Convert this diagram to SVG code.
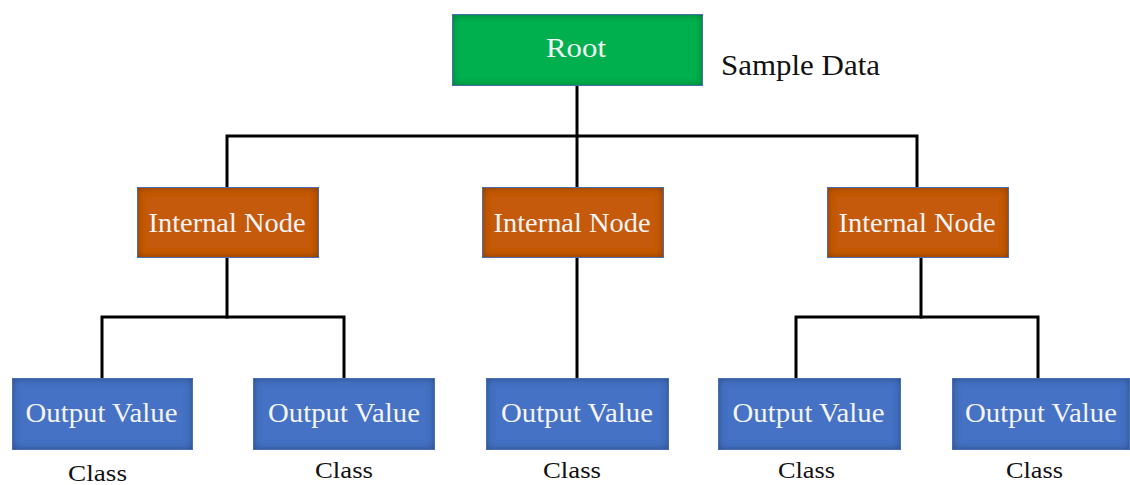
<svg xmlns="http://www.w3.org/2000/svg" width="1130" height="485" viewBox="0 0 1130 485">
  <defs>
    <!-- soft dark edge inside each box -->
    <filter id="inset" x="-10%" y="-20%" width="120%" height="140%">
      <feFlood flood-color="#000" flood-opacity="0.75" result="ink"/>
      <feComposite in="ink" in2="SourceAlpha" operator="out" result="outside"/>
      <feGaussianBlur in="outside" stdDeviation="4" result="blurred"/>
      <feComposite in="blurred" in2="SourceAlpha" operator="in" result="edge"/>
      <feMerge>
        <feMergeNode in="SourceGraphic"/>
        <feMergeNode in="edge"/>
      </feMerge>
    </filter>
    <style>
      .box { filter: url(#inset); }
      .frame { fill: none; stroke: #4a6fb0; stroke-width: 1; }
      .root { fill: #00b050; }
      .inner { fill: #c55a11; }
      .leaf { fill: #4472c4; }
      .lbl { font-family: "Liberation Serif", "Times New Roman", serif; font-size: 28px; fill: #f4f4f4; text-anchor: middle; }
      .note { font-family: "Liberation Serif", "Times New Roman", serif; fill: #111; }
      .cls { font-size: 23px; text-anchor: middle; }
      .wire { fill: none; stroke: #000; stroke-width: 3; stroke-linejoin: miter; stroke-linecap: square; }
    </style>
  </defs>

  <rect width="1130" height="485" fill="#fff"/>

  <!-- connectors -->
  <g id="connectors" class="wire">
    <path d="M577 86 V187"/>
    <path d="M227 187 V136 H917 V187"/>
    <path d="M227 258 V317"/>
    <path d="M102 378 V317 H344 V378"/>
    <path d="M577 258 V378"/>
    <path d="M921 258 V317"/>
    <path d="M796 378 V317 H1038 V378"/>
  </g>

  <!-- root -->
  <g id="root">
    <rect class="box root" x="452" y="14" width="251" height="72"/>
    <rect class="frame" x="452.5" y="14.5" width="250" height="71"/>
    <text class="lbl" x="576" y="57" textLength="60" lengthAdjust="spacingAndGlyphs">Root</text>
  </g>
  <g id="sample-data">
    <text class="note" x="721" y="75" font-size="30" textLength="159" lengthAdjust="spacingAndGlyphs">Sample Data</text>
  </g>

  <!-- internal nodes -->
  <g id="internal-1">
    <rect class="box inner" x="137" y="187" width="182" height="71"/>
    <rect class="frame" x="137.5" y="187.5" width="181" height="70"/>
    <text class="lbl" x="227" y="232" textLength="157" lengthAdjust="spacingAndGlyphs">Internal Node</text>
  </g>
  <g id="internal-2">
    <rect class="box inner" x="482" y="187" width="182" height="71"/>
    <rect class="frame" x="482.5" y="187.5" width="181" height="70"/>
    <text class="lbl" x="572" y="232" textLength="157" lengthAdjust="spacingAndGlyphs">Internal Node</text>
  </g>
  <g id="internal-3">
    <rect class="box inner" x="827" y="187" width="182" height="71"/>
    <rect class="frame" x="827.5" y="187.5" width="181" height="70"/>
    <text class="lbl" x="917" y="232" textLength="157" lengthAdjust="spacingAndGlyphs">Internal Node</text>
  </g>

  <!-- leaves -->
  <g id="leaf-1">
    <rect class="box leaf" x="12" y="378" width="181" height="72"/>
    <rect class="frame" x="12.5" y="378.5" width="180" height="71"/>
    <text class="lbl" x="101.5" y="422" textLength="152" lengthAdjust="spacingAndGlyphs">Output Value</text>
    <text class="note cls" x="97.5" y="481" textLength="59" lengthAdjust="spacingAndGlyphs">Class</text>
  </g>
  <g id="leaf-2">
    <rect class="box leaf" x="253" y="378" width="182" height="72"/>
    <rect class="frame" x="253.5" y="378.5" width="181" height="71"/>
    <text class="lbl" x="344" y="422" textLength="152" lengthAdjust="spacingAndGlyphs">Output Value</text>
    <text class="note cls" x="344" y="478" textLength="58" lengthAdjust="spacingAndGlyphs">Class</text>
  </g>
  <g id="leaf-3">
    <rect class="box leaf" x="486" y="378" width="183" height="72"/>
    <rect class="frame" x="486.5" y="378.5" width="182" height="71"/>
    <text class="lbl" x="577" y="422" textLength="152" lengthAdjust="spacingAndGlyphs">Output Value</text>
    <text class="note cls" x="572" y="478" textLength="58" lengthAdjust="spacingAndGlyphs">Class</text>
  </g>
  <g id="leaf-4">
    <rect class="box leaf" x="718" y="378" width="183" height="72"/>
    <rect class="frame" x="718.5" y="378.5" width="182" height="71"/>
    <text class="lbl" x="808.5" y="422" textLength="152" lengthAdjust="spacingAndGlyphs">Output Value</text>
    <text class="note cls" x="806.5" y="478" textLength="57" lengthAdjust="spacingAndGlyphs">Class</text>
  </g>
  <g id="leaf-5">
    <rect class="box leaf" x="952" y="378" width="178" height="72"/>
    <rect class="frame" x="952.5" y="378.5" width="177" height="71"/>
    <text class="lbl" x="1041" y="422" textLength="152" lengthAdjust="spacingAndGlyphs">Output Value</text>
    <text class="note cls" x="1034.5" y="478" textLength="57" lengthAdjust="spacingAndGlyphs">Class</text>
  </g>
</svg>
